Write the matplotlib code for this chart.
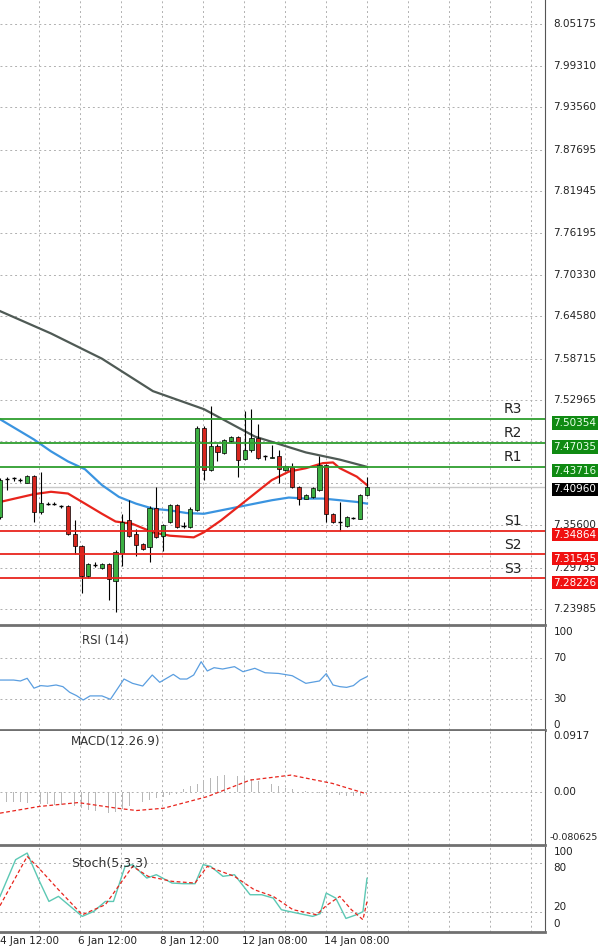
import numpy as np
import matplotlib
matplotlib.use("Agg")
import matplotlib.pyplot as plt

# candle OHLC (index 0 = leftmost visible candle)
opens = [7.3673, 7.4197, 7.4211, 7.4187, 7.4150, 7.4244, 7.3743, 7.3860, 7.3860, 7.3822,
         7.3822, 7.3439, 7.3275, 7.2854, 7.3008, 7.2971, 7.3027, 7.2793, 7.3181, 7.3626,
         7.3439, 7.3298, 7.3261, 7.3804, 7.3415, 7.3602, 7.3836, 7.3556, 7.3542, 7.3776,
         7.4913, 7.4328, 7.4665, 7.4562, 7.4726, 7.4786, 7.4478, 7.4599, 7.4772, 7.4515,
         7.4492, 7.4515, 7.4328, 7.4365, 7.4094, 7.3930, 7.3953, 7.4047, 7.4398, 7.3719,
         7.3602, 7.3556, 7.3664, 7.3649, 7.3977]
closes = [7.4187, 7.4197, 7.4211, 7.4187, 7.4244, 7.3743, 7.3869, 7.3860, 7.3860, 7.3822,
          7.3439, 7.3275, 7.2854, 7.3017, 7.3008, 7.3027, 7.2821, 7.3195, 7.3602, 7.3415,
          7.3289, 7.3228, 7.3804, 7.3401, 7.3570, 7.3836, 7.3532, 7.3556, 7.3790, 7.4913,
          7.4328, 7.4665, 7.4571, 7.4740, 7.4786, 7.4468, 7.4609, 7.4772, 7.4492, 7.4515,
          7.4500, 7.4337, 7.4375, 7.4094, 7.3930, 7.3977, 7.4070, 7.4398, 7.3719, 7.3602,
          7.3602, 7.3673, 7.3664, 7.3977, 7.4094]
highs = [7.4211, 7.4225, 7.4230, 7.4210, 7.4260, 7.4260, 7.4304, 7.3880, 7.3880, 7.3840,
         7.3840, 7.3626, 7.3290, 7.3030, 7.3050, 7.3040, 7.3030, 7.3210, 7.3719, 7.3907,
         7.3505, 7.3310, 7.3820, 7.4094, 7.3580, 7.3850, 7.3850, 7.3600, 7.3810, 7.4930,
         7.4930, 7.5217, 7.4680, 7.4760, 7.4800, 7.4800, 7.5147, 7.5170, 7.4960, 7.4540,
         7.4679, 7.4609, 7.4400, 7.4420, 7.4110, 7.3990, 7.4090, 7.4515, 7.4410, 7.3730,
         7.3883, 7.3690, 7.3680, 7.3990, 7.4230]
lows = [7.3649, 7.4047, 7.4180, 7.4160, 7.4140, 7.3602, 7.3720, 7.3840, 7.3840, 7.3800,
        7.3430, 7.3158, 7.2620, 7.2830, 7.2980, 7.2950, 7.2526, 7.2362, 7.2994, 7.3400,
        7.3135, 7.3210, 7.3055, 7.3390, 7.3205, 7.3590, 7.3520, 7.3520, 7.3520, 7.3760,
        7.4187, 7.4310, 7.4445, 7.4550, 7.4710, 7.4234, 7.4460, 7.4580, 7.4480, 7.4470,
        7.4492, 7.4141, 7.4310, 7.4080, 7.3836, 7.3920, 7.3940, 7.4030, 7.3602, 7.3590,
        7.3485, 7.3540, 7.3650, 7.3640, 7.3960]

# moving averages (index, value)
ma_red_x = [0, 5, 7.5, 10, 12.5, 15, 17, 19.5, 22.5, 25, 28.5, 30, 32.5, 35, 37.5, 40, 42.5, 45, 47.5, 49, 50, 52.5, 54]
ma_red_y = [7.3883, 7.3991, 7.4024, 7.4000, 7.3860, 7.3719, 7.3612, 7.3579, 7.3462, 7.3415, 7.3392, 7.3462,
            7.3626, 7.3813, 7.4000, 7.4187, 7.4304, 7.4351, 7.4421, 7.4431, 7.4351, 7.4234, 7.4117]
ma_blue_x = [0, 5, 7.5, 10, 12.5, 15, 17.5, 20, 22.5, 25, 27.5, 30, 32.5, 35, 37.5, 40, 42.5, 45, 47.5, 50, 52.5, 54]
ma_blue_y = [7.5030, 7.4749, 7.4585, 7.4445, 7.4337, 7.4117, 7.3953, 7.3860, 7.3790, 7.3766, 7.3729, 7.3719,
             7.3766, 7.3813, 7.3860, 7.3907, 7.3944, 7.3930, 7.3930, 7.3907, 7.3883, 7.3860]
ma_gray_x = [0, 7.5, 15, 22.5, 30, 37.5, 45, 50, 54]
ma_gray_y = [7.653, 7.622, 7.587, 7.542, 7.517, 7.479, 7.457, 7.447, 7.437]

res_levels = [7.50354, 7.47035, 7.43716]
sup_levels = [7.34864, 7.31545, 7.28226]
res_names = ["R3", "R2", "R1"]
sup_names = ["S1", "S2", "S3"]
last_price = 7.40960
price_ticks = [8.05175, 7.99310, 7.93560, 7.87695, 7.81945, 7.76195, 7.70330, 7.64580,
               7.58715, 7.52965, 7.47215, 7.41465, 7.35600, 7.29735, 7.23985]
price_tick_labels = ["8.05175", "7.99310", "7.93560", "7.87695", "7.81945", "7.76195", "7.70330",
                     "7.64580", "7.58715", "7.52965", "", "", "7.35600", "7.29735", "7.23985"]

rsi_x = [0, 2, 3, 4, 5, 6, 7, 8.25, 9.25, 10.25, 11.25, 12.25, 13.25, 15, 16.25, 18.25, 19.5, 21, 22.4,
         23.5, 25.5, 26.5, 27.5, 28.5, 29.6, 30.5, 31.5, 32.75, 34.5, 35.75, 37.5, 39, 41, 43, 45, 47,
         48, 49, 50, 51, 52, 53, 54]
rsi_y = [48.5, 48.5, 47.6, 50.2, 40.6, 43.1, 42.5, 43.7, 42.1, 36.6, 33.4, 29.1, 33.1, 33.1, 29.8,
         49.5, 45.3, 42.7, 53.4, 46.3, 54.0, 49.5, 49.5, 53.4, 66.3, 57.3, 60.5, 59.2, 61.5, 56.6,
         59.9, 55.6, 54.9, 52.7, 45.3, 47.6, 54.7, 43.7, 42.1, 41.4, 43.1, 48.5, 51.8]

macd_hist = [-0.015, -0.015, -0.016, -0.016, -0.017, -0.017, -0.018, -0.019, -0.020, -0.020,
             -0.021, -0.022, -0.024, -0.027, -0.029, -0.031, -0.032, -0.030, -0.026, -0.022,
             -0.019, -0.016, -0.013, -0.010, -0.008, -0.005, -0.003, 0.004, 0.008, 0.012,
             0.018, 0.021, 0.023, 0.025, 0.025, 0.024, 0.022, 0.019, 0.016, 0.013,
             0.011, 0.008, 0.006, 0.004, 0.002, 0.001, -0.001, -0.002, -0.003, -0.004,
             -0.005, -0.006, -0.006, -0.007, -0.006]
macd_sig_x = [0, 5.7, 11.5, 17.2, 20.1, 24.1, 30.5, 36.8, 42.8, 48.9, 54]
macd_sig_y = [-0.0325, -0.0225, -0.0165, -0.025, -0.0285, -0.025, -0.0075, 0.0175, 0.025, 0.0125, -0.0035]

stk_x = [0, 2.3, 4.0, 5.7, 7.2, 8.6, 12.1, 13.8, 15.5, 16.7, 18.4, 19.5, 21.6, 23.0, 25.3, 27.0, 28.7,
         29.9, 31.0, 32.8, 34.5, 36.8, 38.5, 40.2, 41.4, 42.5, 46.0, 47.1, 48.0, 49.4, 50.9, 52.3, 53.4, 54]
stk_y = [39.6, 84.5, 92.6, 60.0, 33.4, 39.6, 15.1, 21.2, 33.4, 33.4, 76.3, 78.4, 62.0, 66.1, 55.9, 55.1,
         55.1, 78.4, 76.3, 64.1, 66.1, 41.6, 41.6, 37.5, 23.3, 21.2, 15.1, 18.4, 43.6, 37.5, 12.6, 16.7, 20.8, 61.6]
std_x = [0, 4.0, 5.7, 8.6, 12.1, 15.5, 19.5, 21.8, 25.3, 28.7, 30.5, 34.5, 37.4, 40.2, 43.1, 46.6, 48.0,
         50.0, 51.7, 53.4, 54]
std_y = [28.2, 88.5, 74.3, 47.8, 17.1, 29.4, 76.3, 64.1, 58.0, 55.9, 76.3, 64.1, 47.8, 39.6, 23.3, 17.1,
         28.2, 39.6, 23.3, 11.0, 33.4]

date_labels = ["4 Jan 12:00", "6 Jan 12:00", "8 Jan 12:00", "12 Jan 08:00", "14 Jan 08:00"]

W, H = 600, 950
PLOT_W = 545
STEP = 367 / 54.0  # pixels per candle
XMAX = PLOT_W / STEP
GREEN = "#2e9e2e"
RED = "#e8241c"
GRID = dict(color="#b0b0b0", linestyle=(0, (2, 3)), linewidth=0.7)

fig = plt.figure(figsize=(6, 9.5), dpi=100)
fig.patch.set_facecolor("white")


def px_axes(top, bottom):
    return fig.add_axes([0, 1 - bottom / H, PLOT_W / W, (bottom - top) / H])


def style(ax):
    ax.set_xlim(0, XMAX)
    for s in ["left", "top"]:
        ax.spines[s].set_visible(False)
    ax.spines["right"].set_color("#555555")
    ax.spines["bottom"].set_color("#707070")
    ax.spines["bottom"].set_linewidth(2)
    ax.set_xticks([])
    ax.set_yticks([])
    for k in range(-4, 9):
        ax.axvline((367 - 41 * k) / STEP, zorder=0, **GRID)


def right_label(ax, v, lab, va="center", dy=0, **kw):
    ax.annotate(lab, (1, v), xycoords=("axes fraction", "data"), xytext=(6, dy),
                textcoords="offset points", va=va, fontsize=7.5, color="#222222", **kw)


# ---------- main price panel
ax = px_axes(0, 625)
style(ax)
ax.set_ylim(7.23985 - 16 / 721, 7.52965 + 400 / 721)
for p, lab in zip(price_ticks, price_tick_labels):
    ax.axhline(p, zorder=0, **GRID)
    if lab:
        right_label(ax, p, lab)
ax.axhline(last_price, color="#c8c8c8", linewidth=1, zorder=1)

idx = np.arange(len(opens))
o, c = np.array(opens), np.array(closes)
ax.vlines(idx, lows, highs, color="black", linewidth=0.8, zorder=3)
up, dn, dj = c > o, c < o, c == o
ax.bar(idx[up], (c - o)[up], bottom=o[up], width=0.62, color="#3cb043", edgecolor="black", linewidth=0.5, zorder=4)
ax.bar(idx[dn], (c - o)[dn], bottom=o[dn], width=0.62, color="#d7261e", edgecolor="black", linewidth=0.5, zorder=4)
ax.hlines(o[dj], idx[dj] - 0.3, idx[dj] + 0.3, color="black", linewidth=1, zorder=4)

ax.plot(ma_gray_x, ma_gray_y, color="#4f5a55", linewidth=1.6, zorder=2)
ax.plot(ma_blue_x, ma_blue_y, color="#3a94e0", linewidth=1.6, zorder=2)
ax.plot(ma_red_x, ma_red_y, color="#e8241c", linewidth=1.6, zorder=2)

for lv, nm in zip(res_levels, res_names):
    ax.axhline(lv, color=GREEN, linewidth=1.3, zorder=5)
    ax.text(75.5, lv + 0.004, nm, fontsize=10, color="#222222", va="bottom", ha="center")
    ax.annotate(f"{lv:.5f}", (1, lv), xycoords=("axes fraction", "data"), xytext=(6, -3),
                textcoords="offset points", va="center", fontsize=7.5, color="#e8ffe8",
                bbox=dict(boxstyle="square,pad=0.15", fc="#0f8a12", ec="none"))
for lv, nm in zip(sup_levels, sup_names):
    ax.axhline(lv, color=RED, linewidth=1.3, zorder=5)
    ax.text(75.5, lv + 0.004, nm, fontsize=10, color="#222222", va="bottom", ha="center")
    ax.annotate(f"{lv:.5f}", (1, lv), xycoords=("axes fraction", "data"), xytext=(6, -3),
                textcoords="offset points", va="center", fontsize=7.5, color="white",
                bbox=dict(boxstyle="square,pad=0.15", fc="#f01010", ec="none"))
ax.annotate(f"{last_price:.5f}", (1, last_price), xycoords=("axes fraction", "data"), xytext=(6, -2),
            textcoords="offset points", va="center", fontsize=7.5, color="white",
            bbox=dict(boxstyle="square,pad=0.15", fc="black", ec="none"))

# ---------- RSI
ax2 = px_axes(627, 730)
style(ax2)
ax2.set_ylim(0, 100)
for v in [70, 30]:
    ax2.axhline(v, zorder=0, **GRID)
ax2.plot(rsi_x, rsi_y, color="#5a9ee0", linewidth=0.9)
ax2.text(12, 93, "RSI (14)", fontsize=8.5, color="#333333", va="top")
for v, lab, va in [(100, "100", "top"), (70, "70", "center"), (30, "30", "center"), (0, "0", "bottom")]:
    right_label(ax2, v, lab, va=va)

# ---------- MACD
ax3 = px_axes(731, 845)
style(ax3)
ax3.set_ylim(-0.080625, 0.0917)
ax3.axhline(0, zorder=0, **GRID)
ax3.bar(idx, macd_hist, width=0.12, color="#b8b8b8", zorder=1)
ax3.plot(macd_sig_x, macd_sig_y, color="#e8241c", linestyle=(0, (3, 2)), linewidth=0.9, zorder=2)
ax3.text(10.5, 0.086, "MACD(12.26.9)", fontsize=8.5, color="#333333", va="top")
right_label(ax3, 0.0917, "0.0917", va="top")
right_label(ax3, 0, "0.00")
ax3.annotate("-0.080625", (1, -0.080625), xycoords=("axes fraction", "data"), xytext=(3, 2),
             textcoords="offset points", va="bottom", fontsize=6.8, color="#222222")

# ---------- Stochastic
ax4 = px_axes(847, 932)
style(ax4)
ax4.set_ylim(-4, 100)
for v in [80, 20]:
    ax4.axhline(v, zorder=0, **GRID)
ax4.plot(stk_x, stk_y, color="#5cc8b4", linewidth=1.0)
ax4.plot(std_x, std_y, color="#e8241c", linestyle=(0, (3, 2)), linewidth=0.9)
ax4.text(10.5, 88, "Stoch(5,3,3)", fontsize=9, color="#333333", va="top")
for v, lab, va in [(100, "100", "top"), (80, "80", "top"), (20, "20", "bottom"), (0, "0", "bottom")]:
    right_label(ax4, v, lab, va=va)

# date labels along the bottom
for i, lab in enumerate(date_labels):
    xpx = max(0, -4 + 82 * i)
    fig.text(xpx / W, 1 - 941 / H, lab, fontsize=7.5, color="#222222", va="center", ha="left")

fig.savefig("out.png", dpi=100)
